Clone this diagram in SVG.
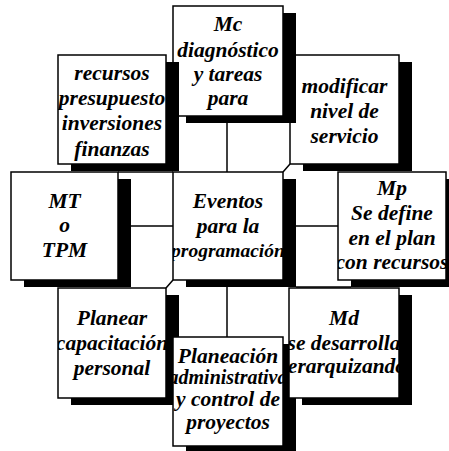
<svg xmlns="http://www.w3.org/2000/svg" width="449" height="451" viewBox="0 0 449 451">
<style>
.sh{fill:#000}
.bx{fill:#fff;stroke:#000;stroke-width:1.5}
.t{font-family:"Liberation Serif","Times New Roman",serif;font-weight:bold;font-style:italic;font-size:21.5px;text-anchor:middle;fill:#000}
.c line,.c polyline{stroke:#000;stroke-width:1.5;fill:none}
</style>
<defs>
<clipPath id="cMc"><rect x="173" y="6" width="110" height="110"/></clipPath>
<clipPath id="cRe"><rect x="58" y="55" width="108" height="109"/></clipPath>
<clipPath id="cMo"><rect x="290" y="55" width="109" height="109"/></clipPath>
<clipPath id="cMt"><rect x="11" y="172" width="107" height="108"/></clipPath>
<clipPath id="cEv"><rect x="173" y="172" width="110" height="108"/></clipPath>
<clipPath id="cMp"><rect x="338" y="172" width="108" height="108"/></clipPath>
<clipPath id="cPl"><rect x="58" y="288" width="108" height="110"/></clipPath>
<clipPath id="cPa"><rect x="173" y="337" width="110" height="109"/></clipPath>
<clipPath id="cMd"><rect x="289" y="288" width="110" height="110"/></clipPath>
</defs>
<rect width="449" height="451" fill="#fff"/>
<g id="connectors" class="c">
<line x1="227" y1="123" x2="227" y2="172"/>
<line x1="227" y1="287" x2="227" y2="337"/>
<line x1="131" y1="226" x2="173" y2="226"/>
<line x1="296" y1="226" x2="338" y2="226"/>
<line x1="118" y1="172" x2="173" y2="172"/>
<line x1="296" y1="287" x2="351" y2="287"/>
<polyline points="283,172 290,164"/>
<polyline points="173,280 166,288"/>
</g>
<g id="modificar">
<rect class="sh" x="303" y="62" width="109" height="109"/>
<rect class="bx" x="290" y="55" width="109" height="109"/>
<g clip-path="url(#cMo)">
<text class="t" x="344.5" y="93">modificar</text>
<text class="t" x="344.5" y="118">nivel de</text>
<text class="t" x="344.5" y="143">servicio</text>
</g>
</g>
<g id="mc">
<rect class="sh" x="186" y="13" width="110" height="110"/>
<rect class="bx" x="173" y="6" width="110" height="110"/>
<g clip-path="url(#cMc)">
<text class="t" x="228" y="31">Mc</text>
<text class="t" x="228" y="57">diagnóstico</text>
<text class="t" x="228" y="81">y tareas</text>
<text class="t" x="228" y="105">para</text>
</g>
</g>
<g id="recursos">
<rect class="sh" x="71" y="62" width="108" height="109"/>
<rect class="bx" x="58" y="55" width="108" height="109"/>
<g clip-path="url(#cRe)">
<text class="t" x="112" y="80">recursos</text>
<text class="t" x="112" y="105">presupuesto</text>
<text class="t" x="112" y="130">inversiones</text>
<text class="t" x="112" y="156">finanzas</text>
</g>
</g>
<g id="mt">
<rect class="sh" x="24" y="179" width="107" height="108"/>
<rect class="bx" x="11" y="172" width="107" height="108"/>
<g clip-path="url(#cMt)">
<text class="t" x="64.5" y="208">MT</text>
<text class="t" x="64.5" y="232">o</text>
<text class="t" x="64.5" y="257">TPM</text>
</g>
</g>
<g id="eventos">
<rect class="sh" x="186" y="179" width="110" height="108"/>
<rect class="bx" x="173" y="172" width="110" height="108"/>
<g clip-path="url(#cEv)">
<text class="t" x="228" y="208">Eventos</text>
<text class="t" x="228" y="233">para la</text>
<text class="t" x="228" y="257" style="font-size:19.5px">programación</text>
</g>
</g>
<g id="mp">
<rect class="sh" x="351" y="179" width="108" height="108"/>
<rect class="bx" x="338" y="172" width="108" height="108"/>
<g clip-path="url(#cMp)">
<text class="t" x="392" y="195">Mp</text>
<text class="t" x="392" y="220">Se define</text>
<text class="t" x="392" y="245">en el plan</text>
<text class="t" x="392" y="269">con recursos</text>
</g>
</g>
<g id="planear">
<rect class="sh" x="71" y="295" width="108" height="110"/>
<rect class="bx" x="58" y="288" width="108" height="110"/>
<g clip-path="url(#cPl)">
<text class="t" x="112" y="325">Planear</text>
<text class="t" x="112" y="350">capacitación</text>
<text class="t" x="112" y="375">personal</text>
</g>
</g>
<g id="planeacion">
<rect class="sh" x="186" y="344" width="110" height="109"/>
<rect class="bx" x="173" y="337" width="110" height="109"/>
<g clip-path="url(#cPa)">
<text class="t" x="228" y="363">Planeación</text>
<text class="t" x="228" y="384" style="font-size:20px">administrativa</text>
<text class="t" x="228" y="406">y control de</text>
<text class="t" x="228" y="429">proyectos</text>
</g>
</g>
<g id="md">
<rect class="sh" x="302" y="295" width="110" height="110"/>
<rect class="bx" x="289" y="288" width="110" height="110"/>
<g clip-path="url(#cMd)">
<text class="t" x="344" y="325">Md</text>
<text class="t" x="344" y="350">se desarrolla</text>
<text class="t" x="344" y="373">jerarquizando</text>
</g>
</g>
</svg>
